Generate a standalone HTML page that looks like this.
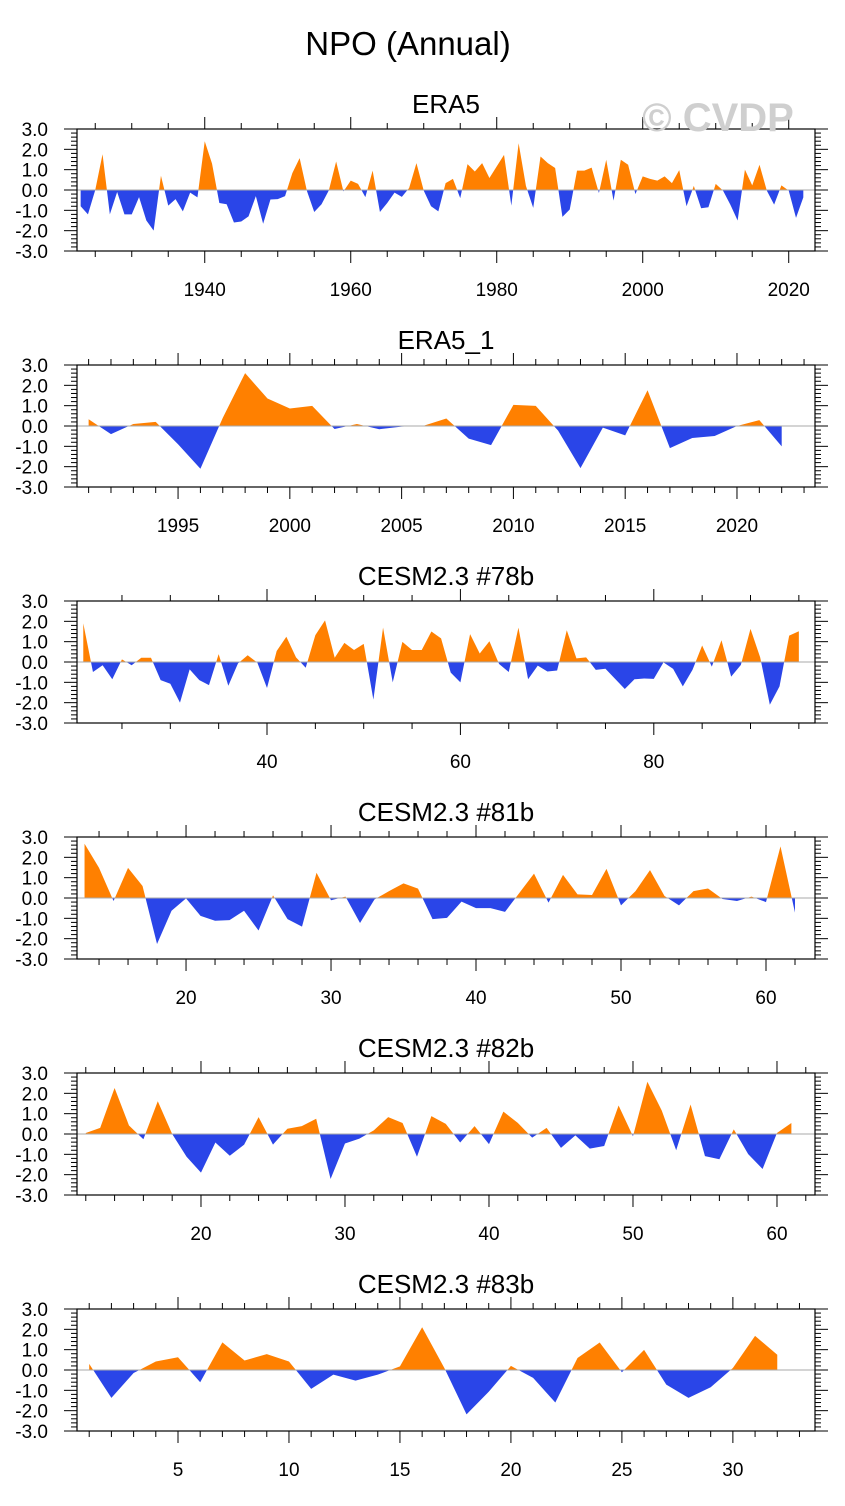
<!DOCTYPE html>
<html><head><meta charset="utf-8"><style>
body{margin:0;background:#fff;width:845px;height:1506px;overflow:hidden}
svg{display:block;font-family:"Liberation Sans",Arial,sans-serif}
</style></head><body>
<svg id="chart" width="845" height="1506" viewBox="0 0 845 1506" xmlns="http://www.w3.org/2000/svg">
<text x="408" y="55" font-size="33" text-anchor="middle">NPO (Annual)</text>
</svg>
<script>
const p1Start = 1923;
const p1Values = [-0.8,-1.2,0.0,1.76,-1.2,-0.1,-1.2,-1.2,-0.35,-1.5,-2.0,0.7,-0.77,-0.45,-1.05,-0.13,-0.36,2.4,1.3,-0.64,-0.7,-1.6,-1.55,-1.3,-0.3,-1.66,-0.47,-0.45,-0.3,0.83,1.57,-0.05,-1.08,-0.7,-0.02,1.4,-0.07,0.46,0.3,-0.35,0.95,-1.08,-0.64,-0.13,-0.34,0.1,1.32,-0.03,-0.8,-1.05,0.34,0.55,-0.4,1.27,0.91,1.32,0.59,1.16,1.73,-0.77,2.3,0.2,-0.88,1.65,1.32,1.08,-1.32,-0.96,0.95,0.95,1.1,-0.15,1.49,-0.52,1.49,1.24,-0.2,0.67,0.55,0.46,0.67,0.34,0.98,-0.8,0.2,-0.9,-0.85,0.3,-0.03,-0.72,-1.5,1.0,0.23,1.24,-0.03,-0.72,0.23,-0.03,-1.37,-0.36];
const p2Start = 1991;
const p2Values = [0.33,-0.4,0.1,0.2,-0.9,-2.1,0.4,2.6,1.35,0.86,0.99,-0.15,0.1,-0.16,-0.03,0.02,0.37,-0.62,-0.94,1.04,0.99,-0.23,-2.07,-0.08,-0.46,1.76,-1.09,-0.59,-0.49,0.0,0.29,-1.0];
const p3Start = 21;
const p3Values = [1.9,-0.49,-0.16,-0.85,0.13,-0.16,0.21,0.21,-0.89,-1.07,-2.0,-0.36,-0.89,-1.14,0.39,-1.17,-0.07,0.33,-0.03,-1.28,0.54,1.24,0.23,-0.28,1.32,2.05,0.21,0.94,0.59,0.89,-1.85,1.69,-1.0,0.99,0.59,0.59,1.5,1.16,-0.52,-1.0,1.37,0.42,1.02,-0.1,-0.49,1.69,-0.85,-0.18,-0.47,-0.42,1.56,0.18,0.23,-0.39,-0.33,-0.83,-1.33,-0.85,-0.81,-0.83,-0.02,-0.34,-1.2,-0.39,0.81,-0.23,1.07,-0.72,-0.15,1.63,0.23,-2.1,-1.2,1.3,1.51];
const p4Start = 13;
const p4Values = [2.67,1.48,-0.15,1.48,0.59,-2.26,-0.63,-0.02,-0.88,-1.12,-1.09,-0.63,-1.6,0.13,-1.04,-1.41,1.24,-0.11,0.07,-1.23,-0.07,0.34,0.72,0.46,-1.04,-0.98,-0.18,-0.5,-0.5,-0.68,0.26,1.2,-0.23,1.14,0.18,0.15,1.43,-0.36,0.34,1.37,0.1,-0.36,0.34,0.47,-0.05,-0.15,0.07,-0.2,2.54,-0.72];
const p5Start = 12;
const p5Values = [0.05,0.3,2.26,0.42,-0.26,1.61,0.0,-1.12,-1.9,-0.42,-1.07,-0.52,0.83,-0.52,0.26,0.39,0.75,-2.21,-0.47,-0.23,0.18,0.83,0.54,-1.12,0.88,0.5,-0.42,0.39,-0.5,1.1,0.55,-0.18,0.3,-0.68,-0.07,-0.72,-0.59,1.4,-0.11,2.57,1.15,-0.8,1.45,-1.09,-1.24,0.23,-0.99,-1.72,0.05,0.54];
const p6Start = 1;
const p6Values = [0.3,-1.37,-0.15,0.42,0.63,-0.6,1.36,0.47,0.78,0.42,-0.93,-0.23,-0.52,-0.23,0.18,2.1,0.1,-2.18,-1.07,0.2,-0.39,-1.6,0.59,1.35,-0.11,0.99,-0.72,-1.37,-0.85,0.1,1.68,0.75];
const yTickLabels = ["3.0","2.0","1.0","0.0","-1.0","-2.0","-3.0"];
const panelTitles = ["ERA5","ERA5_1","CESM2.3 #78b","CESM2.3 #81b","CESM2.3 #82b","CESM2.3 #83b"];

const NS="http://www.w3.org/2000/svg";
const svg=document.getElementById('chart');
function mk(tag,attrs,parent){const e=document.createElementNS(NS,tag);for(const k in attrs)e.setAttribute(k,attrs[k]);(parent||svg).appendChild(e);return e;}

const panels=[
 {start:p1Start,vals:p1Values,xmin:1922.5,xmax:2023.6,major:20,minor:5,first:1940},
 {start:p2Start,vals:p2Values,xmin:1990.48,xmax:2023.49,major:5,minor:1,first:1995},
 {start:p3Start,vals:p3Values,xmin:20.35,xmax:96.67,major:20,minor:5,first:40},
 {start:p4Start,vals:p4Values,xmin:12.48,xmax:63.38,major:10,minor:2,first:20},
 {start:p5Start,vals:p5Values,xmin:11.39,xmax:62.64,major:10,minor:2,first:20},
 {start:p6Start,vals:p6Values,xmin:0.45,xmax:33.7,major:5,minor:1,first:5}
];
const L=77,R=815,H=122;
panels.forEach((p,i)=>{
  const top=129+236*i, bot=top+H;
  const g=mk('g',{});
  
  
  const xs=v=>L+(v-p.xmin)/(p.xmax-p.xmin)*(R-L);
  const ys=v=>top+(3-v)/6*H;
  const t=mk('text',{x:(L+R)/2,y:top-16,'font-size':26,'text-anchor':'middle'},g);
  t.textContent=panelTitles[i];
  
  
  const y0=ys(0);
  let pts=`${xs(p.start)},${y0} `;
  p.vals.forEach((v,k)=>{pts+=`${xs(p.start+k).toFixed(2)},${ys(v).toFixed(2)} `;});
  pts+=`${xs(p.start+p.vals.length-1)},${y0}`;
  const cidA='ca'+i, cidB='cb'+i;
  const defs=mk('defs',{},g);
  const c1=mk('clipPath',{id:cidA},defs);mk('rect',{x:0,y:top,width:845,height:y0-top},c1);
  const c2=mk('clipPath',{id:cidB},defs);mk('rect',{x:0,y:y0,width:845,height:bot-y0},c2);
  const pa=mk('polygon',{points:pts,fill:'#ff8000','clip-path':`url(#${cidA})`},g);
  
  
  const pb=mk('polygon',{points:pts,fill:'#2a45e8','clip-path':`url(#${cidB})`},g);
  
  
  const zl=mk('line',{x1:L,x2:R,y1:y0,y2:y0,stroke:'#aaa','stroke-width':1},g);
  
  
  const box=mk('rect',{x:L,y:top,width:R-L,height:H,fill:'none',stroke:'#000','stroke-width':1.2},g);
  
  
  for(let k=0;k<=30;k++){
    const v=3-k*0.2, y=ys(v), maj=k%5===0, len=maj?13:6;
    mk('line',{x1:L-len,x2:L,y1:y,y2:y,stroke:'#000','stroke-width':1},g);
    mk('line',{x1:R,x2:R+len,y1:y,y2:y,stroke:'#000','stroke-width':1},g);
  }
  yTickLabels.forEach((lab,k)=>{
    const tt=mk('text',{x:48,y:top+k*H/6+7,'font-size':19,'text-anchor':'end'},g);
    tt.textContent=lab;
    
    
  });
  const s=Math.ceil(p.xmin/p.minor)*p.minor;
  for(let v=s;v<=p.xmax+1e-9;v+=p.minor){
    const x=xs(v), maj=Math.abs(((v-p.first)%p.major+p.major)%p.major)<1e-6, len=maj?12:6;
    mk('line',{x1:x,x2:x,y1:top-len,y2:top,stroke:'#000','stroke-width':1},g);
    mk('line',{x1:x,x2:x,y1:bot,y2:bot+len,stroke:'#000','stroke-width':1},g);
    if(maj){
      const tl=mk('text',{x:x,y:bot+45,'font-size':19,'text-anchor':'middle'},g);
      tl.textContent=String(Math.round(v));
      
      
    }
  }
});
const wm=mk('text',{x:718,y:131,'font-size':40,'font-weight':'bold','text-anchor':'middle',fill:'#cfcfcf'});
wm.textContent='© CVDP';


</script>
</body></html>
